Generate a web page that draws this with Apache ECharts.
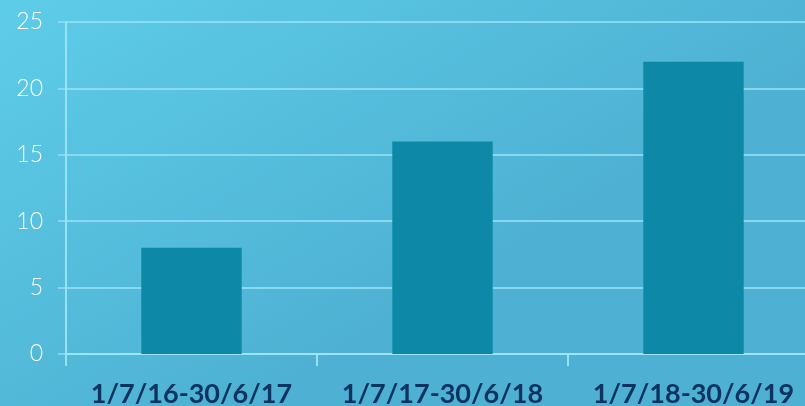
<!DOCTYPE html>
<html>
<head>
<meta charset="utf-8">
<script src="https://cdn.jsdelivr.net/npm/echarts@6/dist/echarts.min.js"></script>
<style>
  html, body { margin: 0; padding: 0; }
  #chart { width: 805px; height: 406px; }
</style>
</head>
<body>
<div id="chart"></div>
<script>
var categories = ["1/7/16-30/6/17", "1/7/17-30/6/18", "1/7/18-30/6/19"];
var values = [8, 16, 22];
var yTicks = { min: 0, max: 25, interval: 5 };

var chart = echarts.init(document.getElementById("chart"));

chart.setOption({
  backgroundColor: new echarts.graphic.LinearGradient(0, 0, 0.3, 1, [
    { offset: 0, color: "#5ecde9" },
    { offset: 1, color: "#4eb1d3" },
  ]),
  animation: false,
  grid: { left: 66, top: 22, width: 753, height: 332, outerBoundsMode: "none", containLabel: false },
  xAxis: {
    type: "category",
    data: categories,
    axisLine: { lineStyle: { color: "rgba(160,230,250,0.9)", width: 2 } },
    axisTick: { show: true, interval: 0, length: 12, lineStyle: { color: "rgba(160,230,250,0.9)", width: 2 } },
    axisLabel: {
      interval: 0,
      hideOverlap: false,
      color: "#0d3361",
      fontFamily: "Lato",
      fontWeight: "bold",
      fontSize: 27,
      margin: 27,
    },
  },
  yAxis: {
    type: "value",
    min: yTicks.min,
    max: yTicks.max,
    interval: yTicks.interval,
    axisLine: { show: true, lineStyle: { color: "rgba(160,230,250,0.9)", width: 2 } },
    axisTick: { show: true, length: 8, lineStyle: { color: "rgba(150,225,245,0.7)", width: 2 } },
    splitLine: { lineStyle: { color: "rgba(150,225,245,0.8)", width: 2 } },
    axisLabel: {
      color: "#ffffff",
      fontFamily: "Lato",
      fontWeight: 300,
      fontSize: 23,
      margin: 23,
    },
  },
  series: [
    {
      type: "bar",
      data: values,
      barWidth: "40%",
      itemStyle: { color: "#0d89a7" },
    },
  ],
});
</script>
</body>
</html>
